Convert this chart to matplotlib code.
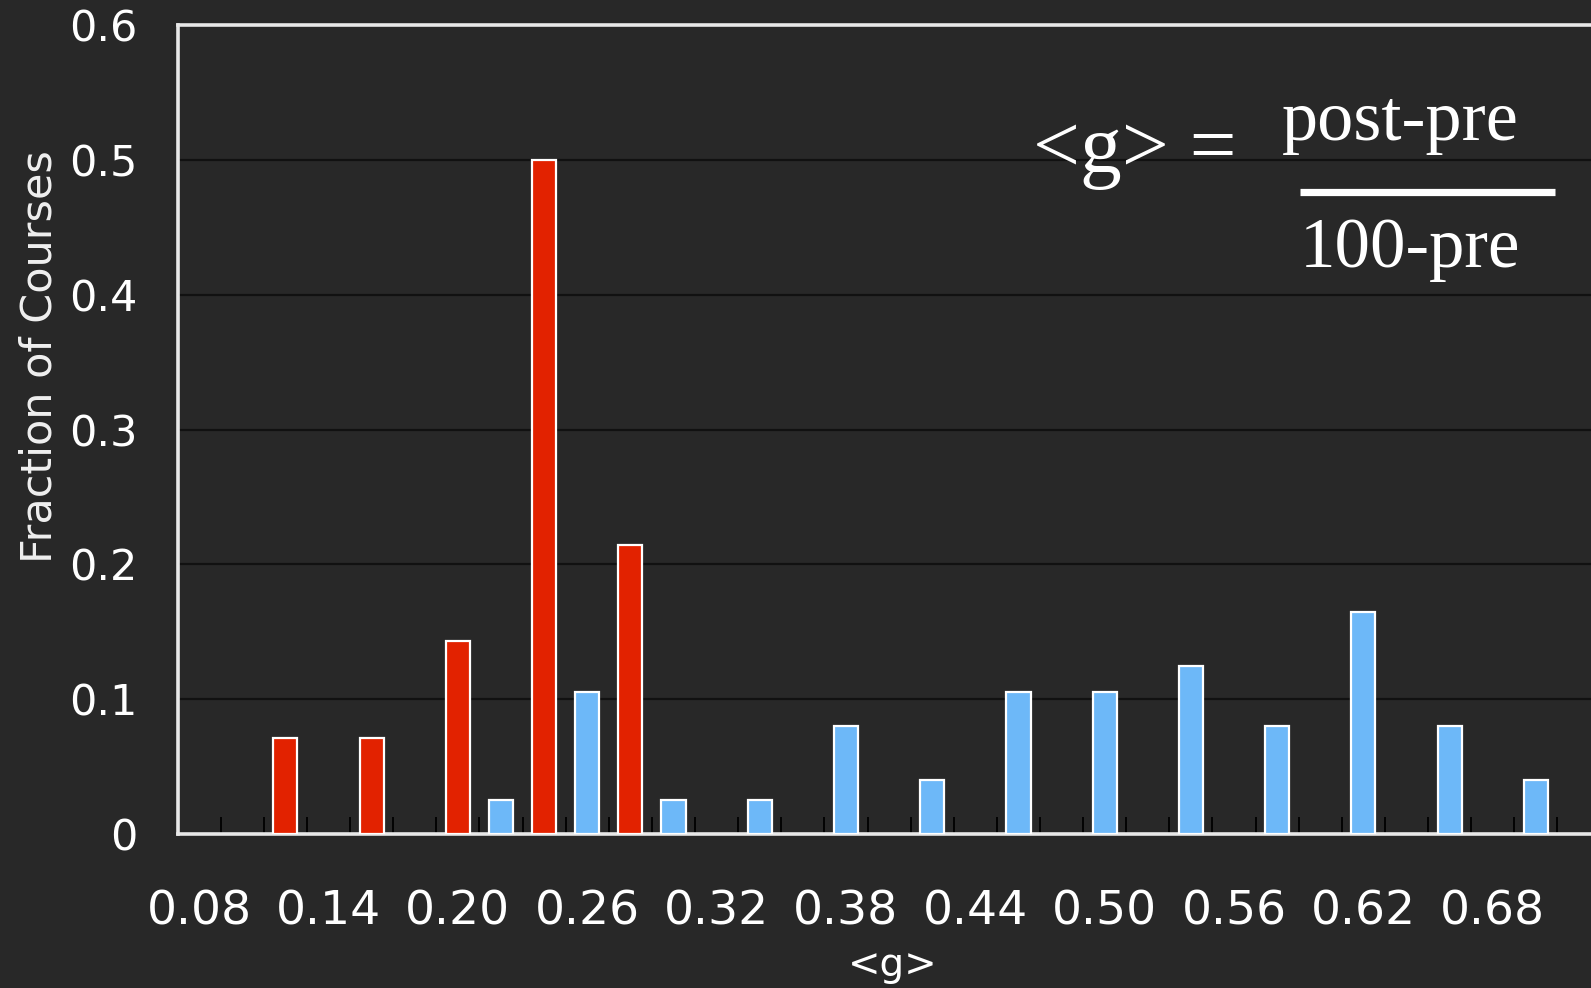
import matplotlib
matplotlib.use("Agg")
import matplotlib.pyplot as plt
import numpy as np
from matplotlib.lines import Line2D

# Data
red_g = [0.12, 0.16, 0.20, 0.24, 0.28]
red_frac = [0.0714, 0.0714, 0.1429, 0.5, 0.2143]
blue_g = [0.22, 0.26, 0.30, 0.34, 0.38, 0.42, 0.46, 0.50, 0.54, 0.58, 0.62, 0.66, 0.70]
blue_frac = [0.025, 0.105, 0.025, 0.025, 0.08, 0.04, 0.105, 0.105, 0.125, 0.08, 0.165, 0.08, 0.04]
xtick_vals = [0.08, 0.14, 0.20, 0.26, 0.32, 0.38, 0.44, 0.50, 0.56, 0.62, 0.68]
xtick_labels = ["0.08", "0.14", "0.20", "0.26", "0.32", "0.38", "0.44", "0.50", "0.56", "0.62", "0.68"]
ytick_vals = [0, 0.1, 0.2, 0.3, 0.4, 0.5, 0.6]
ytick_labels = ["0", "0.1", "0.2", "0.3", "0.4", "0.5", "0.6"]

BG = "#282828"
RED = "#E22200"
BLUE = "#6DB8F8"

W, H = 1591, 988
fig = plt.figure(figsize=(W / 100, H / 100), dpi=100, facecolor=BG)

x0, x1 = 0.07, 0.74
left_px, top_px, base_px = 177.6, 25.4, 834.0
px_per_unit = 43.12 / 0.02
ax_w_px = (x1 - x0) * px_per_unit
ax = fig.add_axes([left_px / W, 1 - base_px / H, ax_w_px / W, (base_px - top_px) / H])
ax.set_facecolor(BG)
ax.set_xlim(x0, x1)
ax.set_ylim(0, 0.6)

bw = 0.0112
ax.bar(red_g, red_frac, width=bw, color=RED, edgecolor="white", linewidth=1.6, zorder=3)
ax.bar(blue_g, blue_frac, width=bw, color=BLUE, edgecolor="white", linewidth=1.6, zorder=3)

# grid
for v in ytick_vals[1:-1]:
    ax.axhline(v, color="#111111", lw=1.6, zorder=1)

ax.set_xticks(xtick_vals)
ax.set_xticklabels(xtick_labels)
ax.set_xticks(np.arange(0.07, 0.745, 0.02), minor=True)
ax.tick_params(axis="x", which="major", length=0, pad=40, labelsize=34, labelcolor="white")
ax.tick_params(axis="x", which="minor", direction="in", length=12, width=1.3, color="black")
ax.set_yticks(ytick_vals)
ax.set_yticklabels(ytick_labels)
ax.tick_params(axis="y", length=0, pad=29, labelsize=31, labelcolor="white")

for s in ["left", "top", "bottom"]:
    ax.spines[s].set_color("#e8e8e8")
    ax.spines[s].set_linewidth(2.6)
ax.spines["right"].set_visible(False)

ax.set_ylabel("Fraction of Courses", fontsize=31, color="#f0f0f0")
ax.yaxis.set_label_coords(-0.0814, 0.59)
ax.set_xlabel("<g>", fontsize=28, color="white")
ax.xaxis.set_label_coords((893 - left_px) / ax_w_px, -0.139)

# Formula annotation
serif = ["Liberation Serif", "DejaVu Serif"]
fig.text(1033 / W, 1 - 172 / H, "<g> =", family=serif, fontsize=60, color="white",
         ha="left", va="baseline")
fig.text(1282 / W, 1 - 140 / H, "post-pre", family=serif, fontsize=52, color="white",
         ha="left", va="baseline")
fig.text(1300 / W, 1 - 267 / H, "100-pre", family=serif, fontsize=51, color="white",
         ha="left", va="baseline")
fig.add_artist(Line2D([1300 / W, 1555 / W], [1 - 192 / H, 1 - 192 / H],
                      transform=fig.transFigure, color="white", lw=5.2, solid_capstyle="butt"))

fig.savefig("out.png", dpi=100, facecolor=BG)
